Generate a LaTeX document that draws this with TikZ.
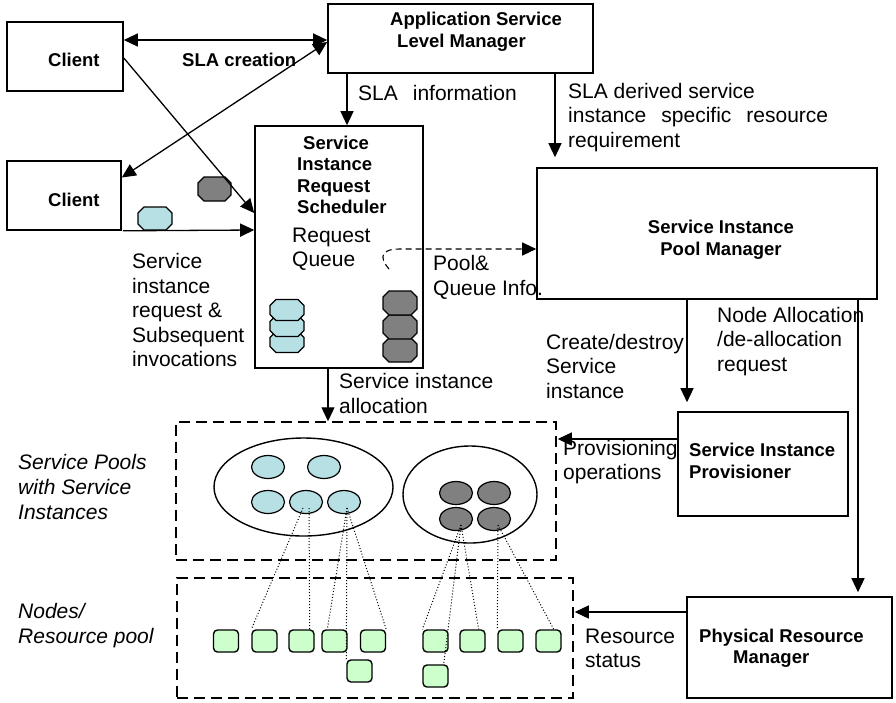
\documentclass[tikz,border=0pt]{standalone}
\usepackage{fontspec}
\setmainfont{Liberation Sans}
\usetikzlibrary{arrows.meta,shapes.geometric}
\definecolor{qblue}{RGB}{183,224,228}
\definecolor{qgray}{RGB}{128,128,128}
\definecolor{qgreen}{RGB}{204,255,204}
\newcommand\octa[5]{\draw[line width=1.2pt,fill=#5,shift={(#1,#2)}]
  (-#3/2+6,-#4/2) -- (#3/2-6,-#4/2) -- (#3/2,-#4/2+6) -- (#3/2,#4/2-6) --
  (#3/2-6,#4/2) -- (-#3/2+6,#4/2) -- (-#3/2,#4/2-6) -- (-#3/2,-#4/2+6) -- cycle;}
\begin{document}
\begin{tikzpicture}[x=1pt,y=-1pt,
  box/.style={draw,line width=1.6pt,inner sep=0,fill=white},
  btxt/.style={inner sep=0,anchor=west,align=left,font=\bfseries\fontsize{18.5}{21.5}\selectfont},
  lbl/.style={inner sep=0,anchor=west,align=left,font=\fontsize{21}{24.5}\selectfont},
  ilbl/.style={inner sep=0,anchor=west,align=left,font=\itshape\fontsize{21}{25}\selectfont},
  arr/.style={line width=1.3pt,-{Triangle[length=14pt,width=13pt]}},
  darr/.style={line width=1.3pt,{Triangle[length=14pt,width=13pt]}-{Triangle[length=14pt,width=13pt]}},
  dbox/.style={draw,dash pattern=on 11pt off 6pt,line width=1.5pt,inner sep=0},
  pool/.style={ellipse,draw,line width=1.4pt,inner sep=0},
  bsi/.style={ellipse,draw,line width=1.2pt,fill=qblue,minimum width=33pt,minimum height=23pt,inner sep=0},
  gsi/.style={ellipse,draw,line width=1.2pt,fill=qgray,minimum width=33pt,minimum height=23pt,inner sep=0},
  res/.style={draw,rounded corners=4pt,line width=1.4pt,fill=qgreen,minimum width=25pt,minimum height=22pt,inner sep=0},
  dot/.style={dotted,line width=1pt}]
\useasboundingbox (0,0) rectangle (896,702);

% boxes
\node[box,minimum width=116,minimum height=69] (c1) at (65,56.5) {};
\node[btxt] (c1t) at (48,60) {Client};
\node[box,minimum width=114,minimum height=69] (c2) at (64,195.5) {};
\node[btxt] (c2t) at (48,200) {Client};
\node[box,minimum width=265,minimum height=69] (aslm) at (460.5,38.5) {};
\node[btxt] (aslmt) at (390,32) {Application Service\\\hspace*{7pt}Level Manager};
\node[box,minimum width=168,minimum height=242] (sched) at (339,247) {};
\node[btxt] (schedt) at (297,175) {\hspace*{6pt}Service\\Instance\\Request\\Scheduler};
\node[box,minimum width=340,minimum height=131] (pm) at (707,233.5) {};
\node[btxt,anchor=center,align=center] (pmt) at (721,240) {Service Instance\\Pool Manager};
\node[box,minimum width=170,minimum height=104] (prov) at (763,464) {};
\node[btxt] (provt) at (689,461) {Service Instance\\Provisioner};
\node[box,minimum width=205,minimum height=101] (prm) at (789.5,647.5) {};
\node[btxt] (prmt) at (699,648) {Physical Resource\\\hspace*{34pt}Manager};

% dashed boxes
\node[dbox,minimum width=380,minimum height=138] (poolbox) at (366,491) {};
\node[dbox,minimum width=396,minimum height=120] (nodebox) at (375,638) {};

% pools
\node[pool,minimum width=179,minimum height=98] (lp) at (303.5,487) {};
\node[pool,minimum width=134,minimum height=97] (rp) at (470,494.5) {};
\node[bsi] (e1) at (268,467) {};
\node[bsi] (e2) at (324,467) {};
\node[bsi] (e3) at (268,502) {};
\node[bsi] (e4) at (306,502) {};
\node[bsi] (e5) at (344,502) {};
\node[gsi] (f1) at (456,493) {};
\node[gsi] (f2) at (494,493) {};
\node[gsi] (f3) at (456,519) {};
\node[gsi] (f4) at (494,519) {};

% resources
\node[res] (g1) at (226,641) {};
\node[res] (g2) at (264.5,641) {};
\node[res] (g3) at (301.5,641) {};
\node[res] (g4) at (334.5,641) {};
\node[res] (g5) at (373,641) {};
\node[res] (g6) at (435.5,641) {};
\node[res] (g7) at (472.5,641) {};
\node[res] (g8) at (510.5,641) {};
\node[res] (g9) at (548.5,641) {};
\node[res] (g10) at (359.5,671) {};
\node[res] (g11) at (435.5,676) {};

% dotted mappings
\draw[dot] ([xshift=-3pt,yshift=-6pt]e4.center) -- (g2.north west);
\draw[dot] ([xshift=3pt,yshift=-6pt]e4.center) -- ([xshift=-5pt]g3.north east);
\draw[dot] ([xshift=3pt,yshift=-6pt]e5.center) -- ([xshift=6pt]g4.north west);
\draw[dot] ([xshift=3pt,yshift=-6pt]e5.center) -- (g10.north west);
\draw[dot] ([xshift=3pt,yshift=-6pt]e5.center) -- (g5.north east);
\draw[dot] ([xshift=5pt,yshift=-6pt]f3.center) -- (g6.north west);
\draw[dot] ([xshift=5pt,yshift=-6pt]f3.center) -- ([xshift=-5pt]g11.north east);
\draw[dot] ([xshift=5pt,yshift=-6pt]f3.center) -- ([xshift=-7pt]g7.north east);
\draw[dot] ([xshift=4pt,yshift=-6pt]f4.center) -- (g8.north west);
\draw[dot] ([xshift=4pt,yshift=-6pt]f4.center) -- ([xshift=-8pt]g9.north east);

% queue octagons
\octa{214.5}{189}{33}{24}{qgray}
\octa{155}{218.5}{34}{23}{qblue}
\octa{287}{342}{34}{21}{qblue}
\octa{287}{326}{34}{21}{qblue}
\octa{287}{310}{34}{21}{qblue}
\octa{400}{350}{34}{24}{qgray}
\octa{400}{327}{34}{24}{qgray}
\octa{400}{303}{34}{24}{qgray}

% connectors
\draw[darr] ([yshift=16.5pt]c1.east) -- ([yshift=-1.5pt]aslm.west);
\draw[darr] ([yshift=18pt]c2.east) -- ([yshift=-3.5pt]aslm.west);
\draw[arr] ([yshift=-1.5pt]c1.east) -- ([yshift=34pt]sched.west);
\draw[arr] ([xshift=1pt]c2.south east) -- ([yshift=17pt]sched.west);
\draw[arr] ([xshift=-113.5pt]aslm.south) -- ([xshift=8pt]sched.north);
\coordinate (sdend) at ([xshift=-152pt,yshift=10pt]pm.north);
\draw[arr] ([xshift=94.5pt]aslm.south) -- (sdend);
\coordinate (dq) at (389,269);
\draw[arr,dashed,dash pattern=on 6pt off 4pt,line width=1.1pt] (dq) .. controls (378,256) and (382,249) .. (400,249) -- ([yshift=-15.5pt]pm.west);
\draw[arr] ([xshift=-11pt]sched.south) -- ([xshift=-38pt]poolbox.north);
\draw[arr] ([xshift=-20pt]pm.south) -- ([xshift=-76pt,yshift=9pt]prov.north);
\draw[arr] ([xshift=151pt]pm.south) -- ([xshift=68.5pt,yshift=4pt]prm.north);
\draw[arr] ([yshift=25pt]prov.west) -- ([xshift=1pt,yshift=52pt]poolbox.east);
\draw[arr] ([yshift=35.5pt]prm.west) -- ([xshift=1pt,yshift=26pt]nodebox.east);

% labels
\node[btxt] (lsla) at (182,60) {SLA creation};
\node[lbl] (linfo) at (358,93) {SLA\hspace{15pt}information};
\node[lbl] (lder) at (568,117.5) {SLA derived service\\instance\hspace{15pt}specific\hspace{15pt}resource\\requirement};
\node[lbl] (lrq) at (292,249.5) {Request\\Queue};
\node[lbl] (lpq) at (433,277.5) {Pool\&\\Queue Info.};
\node[lbl] (lsir) at (132,310) {Service\\instance\\request \&\\Subsequent\\invocations};
\node[lbl] (lsia) at (339,393.5) {Service instance\\allocation};
\node[lbl] (lcd) at (546,366) {Create/destroy\\Service\\instance};
\node[lbl] (lna) at (717,341.5) {Node Allocation\\/de-allocation\\request};
\node[lbl] (lpo) at (563,462) {Provisioning\\operations};
\node[lbl] (lrs) at (585,648.5) {Resource\\status};
\node[ilbl] (lsp) at (18,487) {Service Pools\\with Service\\Instances};
\node[ilbl] (lnr) at (18,625.5) {Nodes/\\Resource pool};
\end{tikzpicture}
\end{document}
